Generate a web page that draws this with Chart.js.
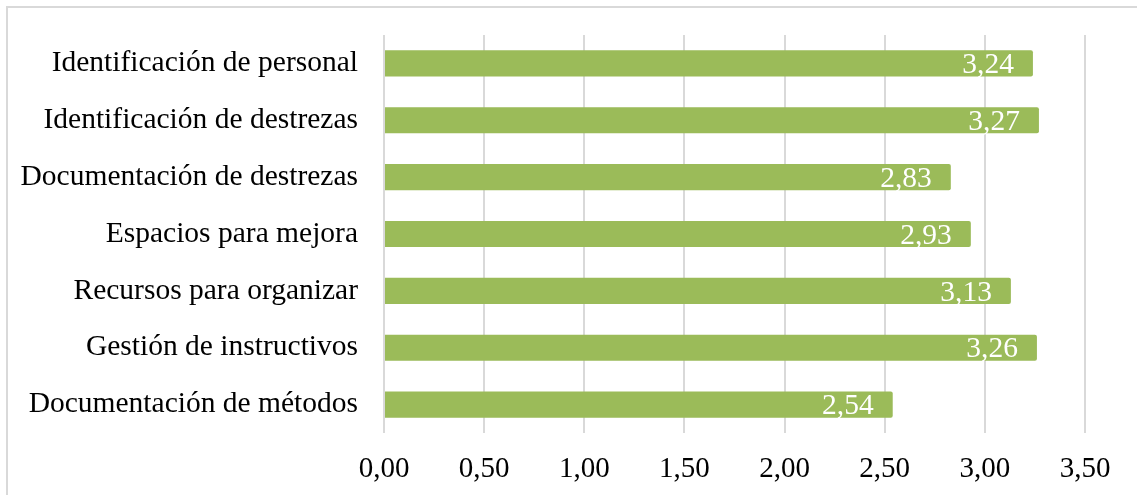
<!DOCTYPE html>
<html>
<head>
<meta charset="utf-8">
<script src="https://cdn.jsdelivr.net/npm/chart.js@4/dist/chart.umd.min.js"></script>
<style>
  html, body { margin: 0; padding: 0; background: #fff; }
  #chart { display: block; }
</style>
</head>
<body>
<canvas id="chart" width="1137" height="495"></canvas>
<script>
const categories = [
  'Identificación de personal',
  'Identificación de destrezas',
  'Documentación de destrezas',
  'Espacios para mejora',
  'Recursos para organizar',
  'Gestión de instructivos',
  'Documentación de métodos'
];
const values = [3.24, 3.27, 2.83, 2.93, 3.13, 3.26, 2.54];
const xTicks = [0, 0.5, 1, 1.5, 2, 2.5, 3, 3.5];

const FONT = '"Liberation Serif", "Times New Roman", serif';
const fmt = v => v.toFixed(2).replace('.', ',');

// light frame along the top and left edge
const framePlugin = {
  id: 'frame',
  beforeDraw(chart) {
    const ctx = chart.ctx;
    ctx.save();
    ctx.strokeStyle = '#d9d9d9';
    ctx.lineWidth = 2;
    ctx.beginPath();
    ctx.moveTo(7, chart.height + 5);
    ctx.lineTo(7, 7);
    ctx.lineTo(chart.width + 5, 7);
    ctx.stroke();
    ctx.restore();
  }
};

// white value labels inside the end of each bar
const valueLabels = {
  id: 'valueLabels',
  afterDatasetsDraw(chart) {
    const ctx = chart.ctx;
    const meta = chart.getDatasetMeta(0);
    ctx.save();
    ctx.font = '29.5px ' + FONT;
    ctx.fillStyle = '#ffffff';
    ctx.textAlign = 'right';
    ctx.textBaseline = 'middle';
    meta.data.forEach((bar, i) => {
      ctx.fillText(fmt(chart.data.datasets[0].data[i]), bar.x - 19, bar.y + 2);
    });
    ctx.restore();
  }
};

new Chart(document.getElementById('chart').getContext('2d'), {
  type: 'bar',
  data: {
    labels: categories,
    datasets: [{
      data: values,
      backgroundColor: '#9bbb59',
      borderWidth: 0,
      borderRadius: 2,
      categoryPercentage: 1,
      barPercentage: 0.46
    }]
  },
  options: {
    indexAxis: 'y',
    responsive: false,
    animation: false,
    layout: { padding: { left: 0, right: 52, top: 35, bottom: 0 } },
    plugins: {
      legend: { display: false },
      tooltip: { enabled: false }
    },
    scales: {
      x: {
        min: 0,
        max: 3.5,
        afterBuildTicks: scale => { scale.ticks = xTicks.map(v => ({ value: v })); },
        afterFit: scale => { scale.height = 62; },
        grid: { color: '#d9d9d9', lineWidth: 2, drawTicks: false },
        border: { display: false },
        ticks: {
          padding: 19,
          color: '#000',
          font: { family: FONT, size: 29 },
          callback: v => fmt(v)
        }
      },
      y: {
        afterFit: scale => {
          scale.width = 384;
          scale.paddingTop = 0;
          scale.paddingBottom = 0;
        },
        grid: { display: false, drawTicks: false },
        border: { display: false },
        ticks: {
          padding: 26,
          color: '#000',
          font: { family: FONT, size: 29.5 }
        }
      }
    }
  },
  plugins: [framePlugin, valueLabels]
});
</script>
</body>
</html>
